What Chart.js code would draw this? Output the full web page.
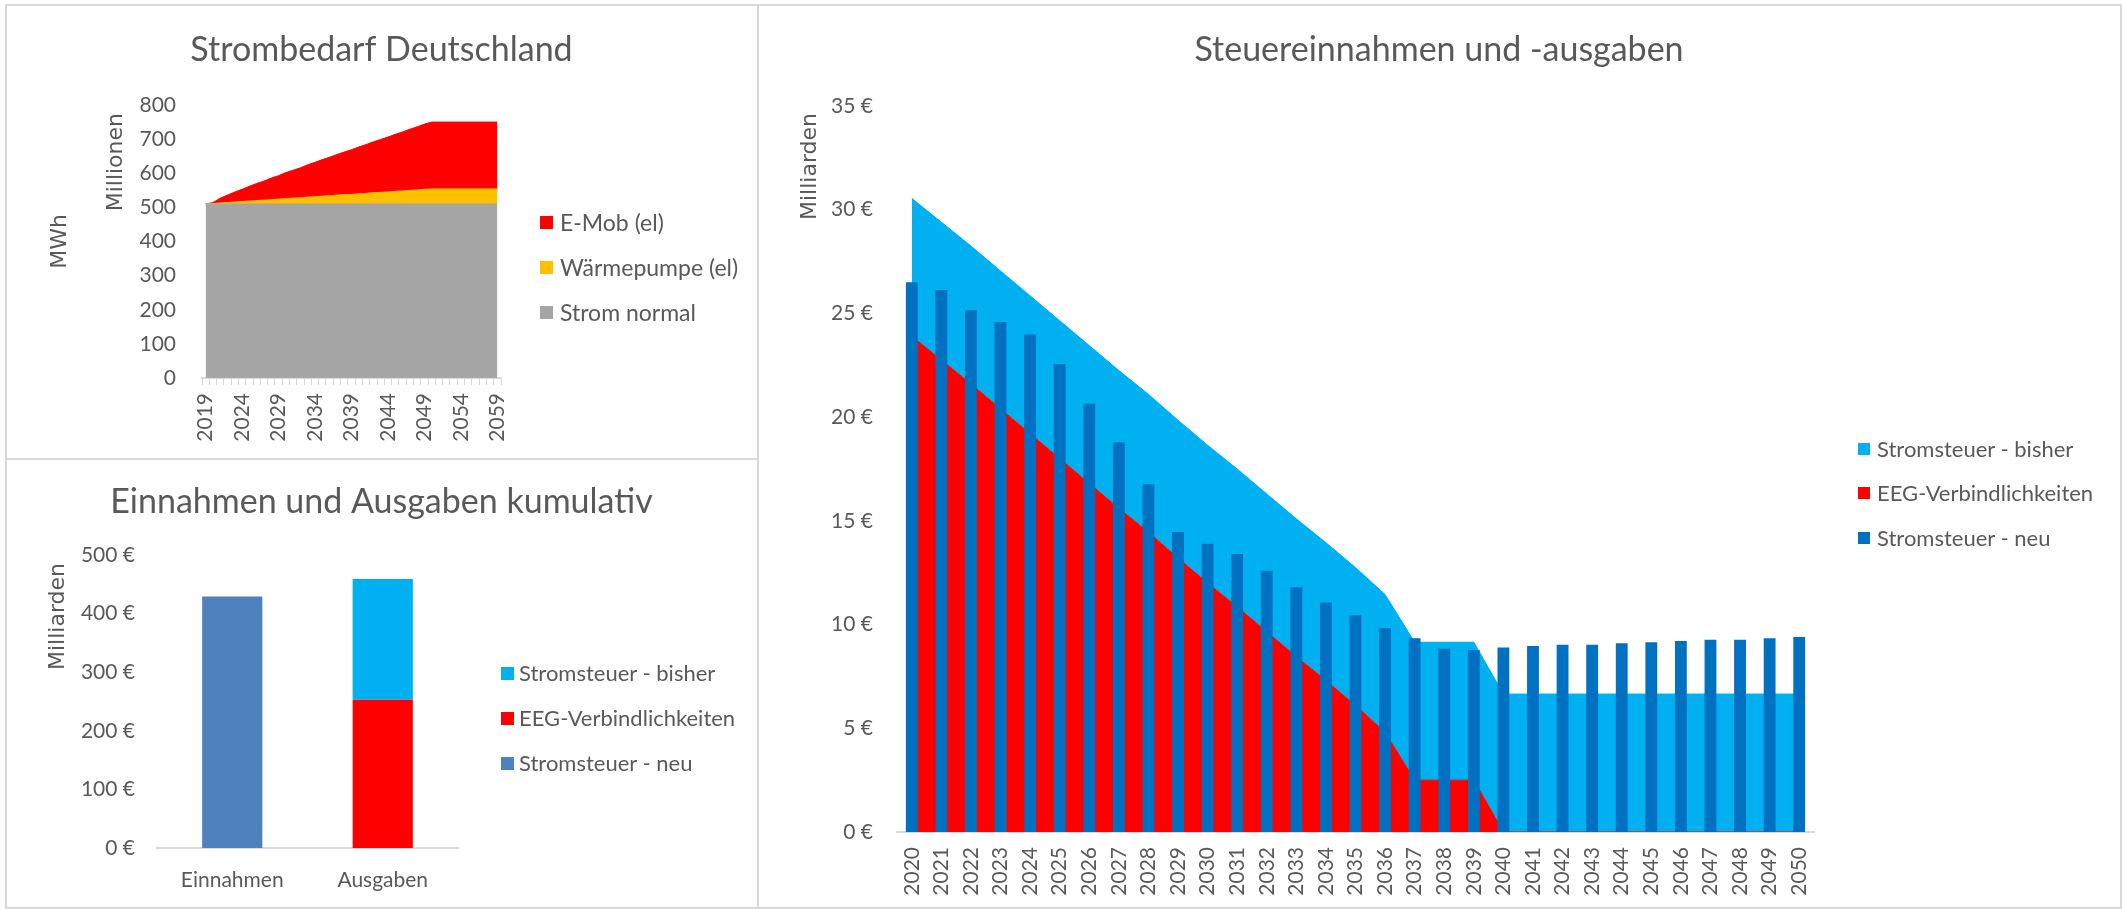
<!DOCTYPE html>
<html>
<head>
<meta charset="utf-8">
<script src="https://cdn.jsdelivr.net/npm/chart.js@4"></script>
<style>
  body { margin: 0; background: #fff; width: 2122px; height: 909px; position: relative; overflow: hidden; }
  .panel { position: absolute; border: 2px solid #d9d9d9; box-sizing: border-box; }
  canvas { position: absolute; }
  .item { position: absolute; height: 26px; color: #595959; font-family: Lato, sans-serif; white-space: nowrap; }
  .item .box { position: absolute; left: 0; }
  .item .txt { position: absolute; top: 0; line-height: 26px; }
</style>
</head>
<body>
<div class="panel" style="left:5px;top:4px;width:754px;height:456px"></div>
<div class="panel" style="left:5px;top:458px;width:754px;height:451px"></div>
<div class="panel" style="left:757px;top:4px;width:1365px;height:905px"></div>

<canvas id="strom" width="749" height="452" style="left:7px;top:6px"></canvas>
<canvas id="kumuliert" width="749" height="447" style="left:7px;top:460px"></canvas>
<canvas id="steuer" width="1362" height="901" style="left:758px;top:6px"></canvas>

<script>
// Strombedarf Deutschland (Mio. MWh)
const stromJahre = ['2019', '2020', '2021', '2022', '2023', '2024', '2025', '2026', '2027', '2028',
  '2029', '2030', '2031', '2032', '2033', '2034', '2035', '2036', '2037', '2038',
  '2039', '2040', '2041', '2042', '2043', '2044', '2045', '2046', '2047', '2048',
  '2049', '2050', '2051', '2052', '2053', '2054', '2055', '2056', '2057', '2058', '2059'];
const stromNormal = [510, 510, 510, 510, 510, 510, 510, 510, 510, 510,
  510, 510, 510, 510, 510, 510, 510, 510, 510, 510,
  510, 510, 510, 510, 510, 510, 510, 510, 510, 510,
  510, 510, 510, 510, 510, 510, 510, 510, 510, 510, 510];
const waermepumpe = [0, 1, 3, 4, 6, 7, 9, 10, 11, 13,
  14, 16, 17, 18, 20, 21, 23, 24, 26, 27,
  28, 30, 31, 33, 34, 35, 37, 38, 40, 41,
  43, 44, 44, 44, 44, 44, 44, 44, 44, 44, 44];
const eMob = [0, 3, 14, 22, 29, 36, 43, 50, 56, 63,
  69, 76, 82, 88, 95, 101, 107, 113, 119, 125,
  131, 137, 143, 149, 155, 161, 167, 173, 179, 185,
  191, 196, 196, 196, 196, 196, 196, 196, 196, 196, 196];

// Einnahmen und Ausgaben kumulativ (Mrd. EUR)
const kumKategorien = ['Einnahmen', 'Ausgaben'];
const kumNeu = [429, null];
const kumEEG = [null, 253];
const kumBisher = [null, 206];

// Steuereinnahmen und -ausgaben pro Jahr (Mrd. EUR)
const steuerJahre = ['2020', '2021', '2022', '2023', '2024', '2025', '2026', '2027', '2028', '2029',
  '2030', '2031', '2032', '2033', '2034', '2035', '2036', '2037', '2038', '2039',
  '2040', '2041', '2042', '2043', '2044', '2045', '2046', '2047', '2048', '2049', '2050'];
const eegVerbindlichkeiten = [23.9, 22.75, 21.6, 20.4, 19.2, 18.0, 16.8, 15.6, 14.45, 13.2,
  12.0, 10.85, 9.65, 8.45, 7.3, 6.1, 4.8, 2.5, 2.5, 2.5,
  0, 0, 0, 0, 0, 0, 0, 0, 0, 0, 0];
const stromsteuerBisher = [6.65, 6.65, 6.65, 6.65, 6.65, 6.65, 6.65, 6.65, 6.65, 6.65,
  6.65, 6.65, 6.65, 6.65, 6.65, 6.65, 6.65, 6.65, 6.65, 6.65,
  6.65, 6.65, 6.65, 6.65, 6.65, 6.65, 6.65, 6.65, 6.65, 6.65, 6.65];
const stromsteuerNeu = [26.5, 26.13, 25.15, 24.59, 23.98, 22.56, 20.64, 18.79, 16.76, 14.46,
  13.9, 13.4, 12.6, 11.8, 11.06, 10.45, 9.82, 9.34, 8.84, 8.78,
  8.9, 8.97, 9.03, 9.03, 9.1, 9.15, 9.21, 9.27, 9.27, 9.34, 9.4];

const grau = '#595959';
const achse = '#d9d9d9';
const schrift = { family: 'Lato', size: 21 };
const titelSchrift = { family: 'Lato', size: 34, weight: 'normal' };
const einheitSchrift = { family: 'DejaVu Sans', size: 22 };
const euro = (v) => v + ' €';

Chart.defaults.color = grau;
Chart.defaults.animation = false;
Chart.defaults.responsive = false;
Chart.defaults.plugins.tooltip.enabled = false;
Chart.defaults.plugins.legend.display = false;

// display-unit label ("Millionen", "Milliarden") next to the value axis
const einheitPlugin = {
  id: 'einheit',
  afterDraw(chart, args, opts) {
    if (!opts.text) return;
    const ctx = chart.ctx;
    ctx.save();
    ctx.translate(opts.x, opts.top);
    ctx.rotate(-Math.PI / 2);
    ctx.font = '22px "DejaVu Sans"';
    ctx.fillStyle = grau;
    ctx.textAlign = 'right';
    ctx.textBaseline = 'middle';
    ctx.fillText(opts.text, 0, 0);
    ctx.restore();
  },
};

// empty axis on the right keeps room for the legend, title stays centred
const platzRechts = (w) => ({
  position: 'right',
  grid: { display: false, drawTicks: false },
  border: { display: false },
  ticks: { display: false },
  afterFit: (s) => { s.width = w; },
});

// legend as html, items top to bottom
function legende(items, boxX, textX, ys, box, size) {
  items.forEach((it, i) => {
    const d = document.createElement('div');
    d.className = 'item';
    d.style.left = boxX + 'px';
    d.style.top = (ys[i] - 13) + 'px';
    d.style.fontSize = size + 'px';
    d.innerHTML = '<span class="box" style="top:' + (13 - box / 2) + 'px;width:' + box + 'px;height:' + box +
      'px;background:' + it.color + '"></span><span class="txt" style="left:' + (textX - boxX) + 'px">' + it.label + '</span>';
    document.body.appendChild(d);
  });
}

const stromChart = new Chart(document.getElementById('strom'), {
  type: 'line',
  data: {
    labels: stromJahre,
    datasets: [
      { label: 'Strom normal', data: stromNormal, backgroundColor: '#a5a5a5', borderColor: '#a5a5a5', fill: 'origin' },
      { label: 'Wärmepumpe (el)', data: waermepumpe, backgroundColor: '#ffc000', borderColor: '#ffc000', fill: '-1' },
      { label: 'E-Mob (el)', data: eMob, backgroundColor: '#ff0000', borderColor: '#ff0000', fill: '-1' },
    ],
  },
  plugins: [einheitPlugin],
  options: {
    layout: { padding: 0 },
    elements: { point: { radius: 0 }, line: { borderWidth: 1, tension: 0 } },
    plugins: {
      title: { display: true, text: 'Strombedarf Deutschland', color: grau, font: titelSchrift, padding: { top: 23.6, bottom: 34.6 } },
      einheit: { text: 'Millionen', x: 109, top: 107 },
    },
    scales: {
      x: {
        offset: true,
        grid: { display: true, offset: true, drawOnChartArea: false, tickLength: 7, color: achse },
        border: { display: true, color: achse, width: 2 },
        ticks: {
          autoSkip: false, minRotation: 90, maxRotation: 90, padding: 8, font: schrift,
          callback: function (v, i) { return i % 5 === 0 ? this.getLabelForValue(v) : ''; },
        },
        afterFit: (s) => { s.height = 80; },
      },
      y: {
        stacked: true, min: 0, max: 800,
        ticks: { stepSize: 100, padding: 26, font: schrift },
        grid: { display: false, drawTicks: false },
        border: { display: false },
        afterFit: (s) => { s.width = 110; },
      },
      mwh: {
        position: 'left', weight: 1,
        grid: { display: false, drawTicks: false },
        border: { display: false },
        ticks: { display: false },
        title: { display: true, text: 'MWh', font: einheitSchrift, padding: { top: 40, bottom: 0 } },
        afterFit: (s) => { s.width = 85; },
      },
      rechts: platzRechts(255),
    },
  },
});

const kumChart = new Chart(document.getElementById('kumuliert'), {
  type: 'bar',
  data: {
    labels: kumKategorien,
    datasets: [
      { label: 'Stromsteuer - neu', data: kumNeu, backgroundColor: '#4f81bd' },
      { label: 'EEG-Verbindlichkeiten', data: kumEEG, backgroundColor: '#ff0000' },
      { label: 'Stromsteuer - bisher', data: kumBisher, backgroundColor: '#00b0f0' },
    ],
  },
  plugins: [einheitPlugin],
  options: {
    layout: { padding: 0 },
    datasets: { bar: { barPercentage: 0.4, categoryPercentage: 1 } },
    plugins: {
      title: { display: true, text: 'Einnahmen und Ausgaben kumulativ', color: grau, font: titelSchrift, padding: { top: 21.6, bottom: 32.6 } },
      einheit: { text: 'Milliarden', x: 51, top: 103 },
    },
    scales: {
      x: {
        stacked: true,
        grid: { display: false, drawTicks: false },
        border: { display: true, color: achse, width: 2 },
        ticks: { padding: 20, font: schrift },
        afterFit: (s) => { s.height = 59; },
      },
      y: {
        stacked: true, min: 0, max: 500,
        ticks: { stepSize: 100, padding: 22, font: schrift, callback: euro },
        grid: { display: false, drawTicks: false },
        border: { display: false },
        afterFit: (s) => { s.width = 150; },
      },
      rechts: platzRechts(298),
    },
  },
});

const steuerChart = new Chart(document.getElementById('steuer'), {
  type: 'bar',
  data: {
    labels: steuerJahre,
    datasets: [
      { type: 'bar', label: 'Stromsteuer - neu', data: stromsteuerNeu, backgroundColor: '#0070c0',
        stack: 'neu', barPercentage: 0.4, categoryPercentage: 1 },
      { type: 'line', label: 'EEG-Verbindlichkeiten', data: eegVerbindlichkeiten, backgroundColor: '#ff0000',
        borderColor: '#ff0000', borderWidth: 1, pointRadius: 0, tension: 0, fill: 'origin', stack: 'flaeche' },
      { type: 'line', label: 'Stromsteuer - bisher', data: stromsteuerBisher, backgroundColor: '#00b0f0',
        borderColor: '#00b0f0', borderWidth: 1, pointRadius: 0, tension: 0, fill: '-1', stack: 'flaeche' },
    ],
  },
  plugins: [einheitPlugin],
  options: {
    layout: { padding: 0 },
    plugins: {
      filler: { drawTime: 'beforeDatasetsDraw' },
      title: { display: true, text: 'Steuereinnahmen und -ausgaben', color: grau, font: titelSchrift, padding: { top: 23.6, bottom: 35.6 } },
      einheit: { text: 'Milliarden', x: 52, top: 107 },
    },
    scales: {
      x: {
        offset: true,
        grid: { display: false, drawTicks: false },
        border: { display: true, color: achse, width: 2 },
        ticks: { autoSkip: false, minRotation: 90, maxRotation: 90, padding: 15, font: schrift },
        afterFit: (s) => { s.height = 75; },
      },
      y: {
        stacked: true, min: 0, max: 35,
        ticks: { stepSize: 5, padding: 24, font: schrift, callback: euro },
        grid: { display: false, drawTicks: false },
        border: { display: false },
        afterFit: (s) => { s.width = 139; },
      },
      rechts: platzRechts(306),
    },
  },
});

// legends, in the same order as the reference (top to bottom)
const legStrom = stromChart.data.datasets.slice().reverse().map(d => ({ label: d.label, color: d.backgroundColor }));
legende(legStrom, 540, 560, [222, 267, 312], 13, 23);
const legKum = kumChart.data.datasets.slice().reverse().map(d => ({ label: d.label, color: d.backgroundColor }));
legende(legKum, 501, 519, [673, 718, 763], 13, 22);
const legSteuer = steuerChart.data.datasets.slice().reverse().map(d => ({ label: d.label, color: d.backgroundColor }));
legende(legSteuer, 1858, 1877, [449, 493, 538], 12, 22);
</script>
</body>
</html>
